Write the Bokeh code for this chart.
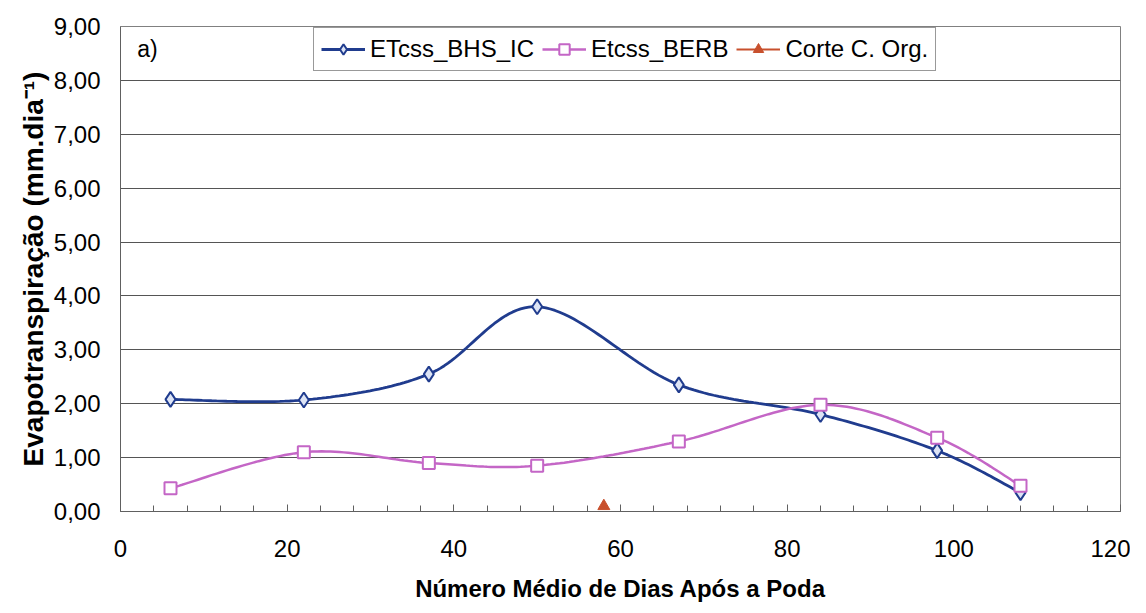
import numpy as np
from bokeh.plotting import figure
from bokeh.models import (Range1d, FixedTicker, Legend, LegendItem, Label)
from bokeh.embed import file_html
from bokeh.resources import INLINE

# ---- data ----
days = [6, 22, 37, 50, 67, 84, 98, 108]
etcss_bhs_ic = [2.08, 2.07, 2.55, 3.80, 2.35, 1.80, 1.13, 0.35]
etcss_berb = [0.43, 1.10, 0.90, 0.85, 1.30, 1.98, 1.37, 0.48]
corte_x = [58]
corte_y = [0.1]
y_ticks = [0, 1, 2, 3, 4, 5, 6, 7, 8, 9]
y_tick_labels = ["0,00", "1,00", "2,00", "3,00", "4,00", "5,00", "6,00", "7,00", "8,00", "9,00"]
x_ticks = [0, 20, 40, 60, 80, 100, 120]
x_minor = list(range(0, 121, 4))

FONT = "Liberation Sans"


def smooth(xs, ys, n=30):
    """Excel-like smoothed line: cubic Bezier with Catmull-Rom control points."""
    P = np.column_stack([xs, ys]).astype(float)
    m = len(P)
    out = []
    for i in range(m - 1):
        p0 = P[i - 1] if i > 0 else P[i]
        p1 = P[i]
        p2 = P[i + 1]
        p3 = P[i + 2] if i + 2 < m else P[i + 1]
        c1 = p1 + (p2 - p0) / 6.0
        c2 = p2 - (p3 - p1) / 6.0
        t = np.linspace(0, 1, n)[:, None]
        seg = ((1 - t) ** 3) * p1 + 3 * ((1 - t) ** 2) * t * c1 + 3 * (1 - t) * t ** 2 * c2 + t ** 3 * p2
        out.append(seg if i == 0 else seg[1:])
    arr = np.vstack(out)
    return arr[:, 0], arr[:, 1]


p = figure(width=1130, height=611, output_backend="svg", toolbar_location=None,
           x_range=Range1d(0, 120), y_range=Range1d(0, 9),
           min_border_left=120, min_border_right=10, min_border_top=26, min_border_bottom=100)
p.background_fill_color = "white"
p.border_fill_color = "white"
p.outline_line_color = "#808080"
p.outline_line_width = 1

BLUE = "#203C8E"
PINK = "#C466C6"
RED = "#C8502D"

bx, by = smooth(days, etcss_bhs_ic)
l1 = p.line(bx, by, line_color=BLUE, line_width=2.8)
s1 = p.scatter(days, etcss_bhs_ic, marker="diamond", size=15, line_color=BLUE,
               fill_color="#DDE4F5", line_width=2)

px_, py_ = smooth(days, etcss_berb)
l2 = p.line(px_, py_, line_color=PINK, line_width=2.5)
s2 = p.scatter(days, etcss_berb, marker="square", size=12, line_color=PINK,
               fill_color="white", line_width=2)

l3 = p.line(corte_x, corte_y, line_color=RED, line_width=2)
s3 = p.scatter(corte_x, corte_y, marker="triangle", size=12, line_color=RED, fill_color=RED)

# axes
p.xaxis.ticker = FixedTicker(ticks=x_ticks, minor_ticks=x_minor)
p.yaxis.ticker = FixedTicker(ticks=y_ticks)
p.yaxis.major_label_overrides = {t: lab for t, lab in zip(y_ticks, y_tick_labels)}

for ax in (p.xaxis[0], p.yaxis[0]):
    ax.axis_line_color = "#606060"
    ax.major_label_text_font = FONT
    ax.major_label_text_font_size = "24px"
    ax.major_label_text_color = "black"
    ax.axis_label_text_font = FONT
    ax.axis_label_text_font_style = "bold"
    ax.axis_label_text_color = "black"
    ax.major_tick_line_color = "#606060"

p.xaxis.major_tick_in = 7
p.xaxis.major_tick_out = 0
p.xaxis.minor_tick_in = 6
p.xaxis.minor_tick_out = 0
p.xaxis.minor_tick_line_color = "#606060"
p.xaxis.major_label_standoff = 28
p.xaxis.axis_label = "Número Médio de Dias Após a Poda"
p.xaxis.axis_label_text_font_size = "24px"
p.xaxis.axis_label_standoff = 15

p.yaxis.major_tick_in = 0
p.yaxis.major_tick_out = 0
p.yaxis.minor_tick_line_color = None
p.yaxis.major_label_standoff = 20
p.yaxis.axis_label = "Evapotranspiração (mm.dia⁻¹)"
p.yaxis.axis_label_text_font_size = "28px"
p.yaxis.axis_label_standoff = 2

p.xgrid.grid_line_color = None
p.ygrid.grid_line_color = "#555555"
p.ygrid.grid_line_width = 1

legend = Legend(items=[
    LegendItem(label="ETcss_BHS_IC", renderers=[l1, s1]),
    LegendItem(label="Etcss_BERB", renderers=[l2, s2]),
    LegendItem(label="Corte C. Org.", renderers=[l3, s3]),
], orientation="horizontal", location=(193, 440))
legend.label_text_font = FONT
legend.label_text_font_size = "24px"
legend.label_text_color = "black"
legend.glyph_width = 44
legend.glyph_height = 26
legend.label_standoff = 5
legend.spacing = 8
legend.padding = 7
legend.margin = 0
legend.border_line_color = "#333333"
legend.border_line_width = 1
legend.background_fill_color = "white"
legend.background_fill_alpha = 1
p.add_layout(legend, "center")

p.add_layout(Label(x=2, y=8.58, text="a)", text_font=FONT, text_font_size="23px",
                   text_color="black", text_baseline="middle"))

open("out.html", "w").write(file_html(p, INLINE))
